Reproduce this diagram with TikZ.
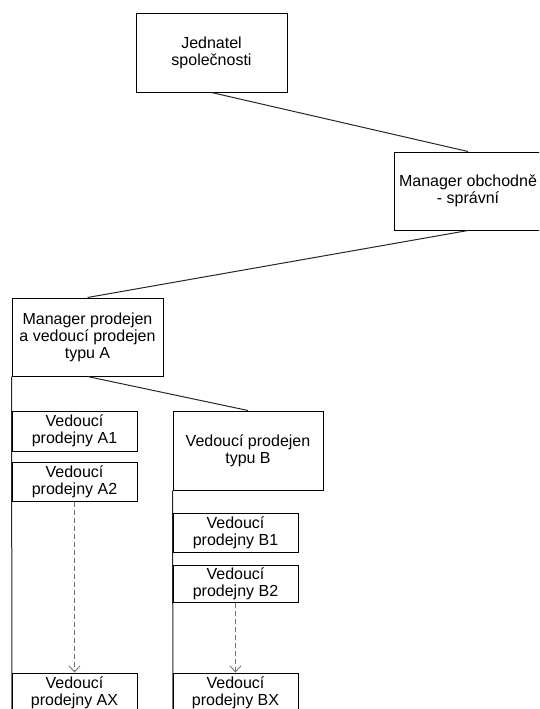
\documentclass[tikz,border=0pt]{standalone}
\usepackage{fontspec}
\setmainfont{Liberation Sans}
\usetikzlibrary{arrows.meta}

\begin{document}
\begin{tikzpicture}[x=1pt,y=-1pt,
    box/.style={draw,line width=1pt,inner sep=0pt,align=center,fill=white,
      font=\fontsize{16}{17}\selectfont},
    big/.style={box,minimum width=151pt,minimum height=78pt},
    shop/.style={box,minimum width=125pt,minimum height=39pt},
    link/.style={line width=1pt,black!85},
    dots/.style={black!55,line width=0.9pt,dash pattern=on 5pt off 3pt,
      -{Straight Barb[length=6pt,width=11pt]}}]
    \useasboundingbox (0,0) rectangle (539,709);
    \clip (0,0) rectangle (539,709);
    \coordinate (endA) at (12,720);
    \coordinate (endB) at (173,720);
    \node[big] (jed) at (211.5,53) {Jednatel\\společnosti};
    \node[big,minimum width=148pt] (obch) at (468,191) {Manager obchodně\\- správní};
    \node[big] (mgrA) at (87.5,337) {Manager prodejen\\a vedoucí prodejen\\typu A};
    \node[big,minimum width=150pt,minimum height=79pt] (typB) at (248,450.5) {Vedoucí prodejen\\typu B};
    \draw[link] (jed.south) -- (obch.north);
    \draw[link] (obch.south) -- (mgrA.north);
    \draw[link] (mgrA.south) -- (typB.north);
    \draw[link] (mgrA.south west) -- (endA);
    \draw[link] (typB.south west) -- (endB);
    \node[shop,minimum height=40pt] (a1) at (74.5,431) {Vedoucí\\prodejny A1};
    \node[shop] (a2) at (74.5,481.5) {Vedoucí\\prodejny A2};
    \node[shop,minimum height=40pt] (ax) at (74.5,693) {Vedoucí\\prodejny AX};
    \node[shop] (b1) at (235.5,532.5) {Vedoucí\\prodejny B1};
    \node[shop,minimum height=37pt] (b2) at (235.5,583.5) {Vedoucí\\prodejny B2};
    \node[shop,minimum height=40pt] (bx) at (235.5,693) {Vedoucí\\prodejny BX};
    \draw[dots] (a2.south) -- (ax.north);
    \draw[dots] (b2.south) -- (bx.north);
\end{tikzpicture}
\end{document}
